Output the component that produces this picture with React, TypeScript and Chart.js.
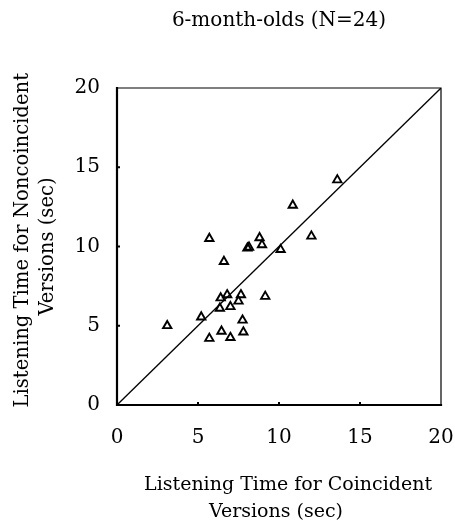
import React, { useEffect, useRef } from "react";
import { Chart, registerables } from "chart.js";

Chart.register(...registerables);

const titleText = "6-month-olds (N=24)";
const xTitle = ["   Listening Time for Coincident", "Versions (sec) "];
const yTitle = ["  Listening Time for Noncoincident", "Versions (sec)"];

// Listening time for coincident versions (sec) — x
const coincident = [
  3.1, 5.2, 5.7, 5.7, 6.6, 6.4, 6.35, 6.45, 6.8, 7.0, 7.0, 7.5, 7.65, 7.75,
  7.8, 8.15, 8.05, 8.8, 8.95, 9.15, 10.1, 10.85, 12.0, 13.6,
];
// Listening time for noncoincident versions (sec) — y
const noncoincident = [
  5.0, 5.55, 10.5, 4.2, 9.05, 6.75, 6.1, 4.65, 6.95, 6.2, 4.25, 6.55, 6.95,
  5.35, 4.6, 9.95, 9.9, 10.55, 10.1, 6.85, 9.8, 12.6, 10.65, 14.2,
];
// reference line y = x
const diagonal = [0, 20];
const tickValues = [5, 10, 15];

const FONT = "'DejaVu Serif', serif";

const frame = {
  id: "frame",
  beforeDatasetsDraw(chart: any) {
    const { ctx, chartArea: a, scales } = chart;
    ctx.save();
    ctx.strokeStyle = "#000";
    ctx.lineCap = "square";
    ctx.lineWidth = 1.2;
    ctx.beginPath();
    ctx.moveTo(a.left, a.top);
    ctx.lineTo(a.right, a.top);
    ctx.lineTo(a.right, a.bottom);
    ctx.stroke();
    ctx.lineWidth = 2.2;
    ctx.beginPath();
    ctx.moveTo(a.left, a.top);
    ctx.lineTo(a.left, a.bottom);
    ctx.lineTo(a.right, a.bottom);
    ctx.stroke();
    ctx.lineWidth = 2;
    ctx.lineCap = "butt";
    for (const v of tickValues) {
      const px = scales.x.getPixelForValue(v);
      ctx.beginPath();
      ctx.moveTo(px, a.bottom);
      ctx.lineTo(px, a.bottom - 3);
      ctx.stroke();
      const py = scales.y.getPixelForValue(v);
      ctx.beginPath();
      ctx.moveTo(a.left, py);
      ctx.lineTo(a.left + 3, py);
      ctx.stroke();
    }
    ctx.restore();
  },
};

export default function App() {
  const ref = useRef<HTMLCanvasElement>(null);
  useEffect(() => {
    document.body.style.margin = "0";
    const canvas = ref.current!;
    const chart = new Chart(canvas, {
      type: "scatter",
      data: {
        datasets: [
          {
            label: "infants",
            data: coincident.map((x, i) => ({ x, y: noncoincident[i] })),
            pointStyle: "triangle",
            pointRadius: 4.8,
            pointBorderWidth: 1.9,
            borderColor: "#000",
            backgroundColor: "rgba(0,0,0,0)",
            order: 1,
          },
          {
            label: "equal",
            data: diagonal.map((v) => ({ x: v, y: v })),
            showLine: true,
            borderColor: "#000",
            borderWidth: 1.3,
            pointRadius: 0,
            order: 2,
          },
        ],
      },
      options: {
        responsive: false,
        animation: false,
        layout: { padding: 0 },
        plugins: {
          legend: { display: false },
          tooltip: { enabled: false },
          title: {
            display: true,
            text: titleText,
            fullSize: false,
            color: "#000",
            font: { family: FONT, size: 20, weight: "normal", lineHeight: 1.2 },
            padding: { top: 9, bottom: 55 },
          },
        },
        scales: {
          x: {
            type: "linear",
            min: 0,
            max: 20,
            grid: { display: false, drawTicks: false },
            border: { display: false },
            ticks: {
              stepSize: 5,
              color: "#000",
              padding: 21,
              font: { family: FONT, size: 20 },
            },
            title: {
              display: true,
              text: xTitle,
              color: "#000",
              font: { family: FONT, size: 19, lineHeight: "27px" },
              padding: { top: 0, bottom: 3 },
            },
            afterFit: (s: any) => {
              s.height = 124;
              s.paddingRight = 14;
              s.paddingLeft = 0;
            },
          },
          y: {
            type: "linear",
            min: 0,
            max: 20,
            grid: { display: false, drawTicks: false },
            border: { display: false },
            ticks: {
              stepSize: 5,
              color: "#000",
              padding: 17,
              font: { family: FONT, size: 20 },
            },
            title: {
              display: true,
              text: yTitle,
              color: "#000",
              font: { family: FONT, size: 19.6, lineHeight: "25px" },
              padding: { top: 10, bottom: 0 },
            },
            afterFit: (s: any) => {
              s.width = 117;
              s.paddingTop = 0;
              s.paddingBottom = 0;
            },
          },
        },
      },
      plugins: [frame],
    });
    return () => chart.destroy();
  }, []);
  return (
    <canvas
      ref={ref}
      width={455}
      height={529}
      style={{ display: "block", width: 455, height: 529 }}
    />
  );
}
